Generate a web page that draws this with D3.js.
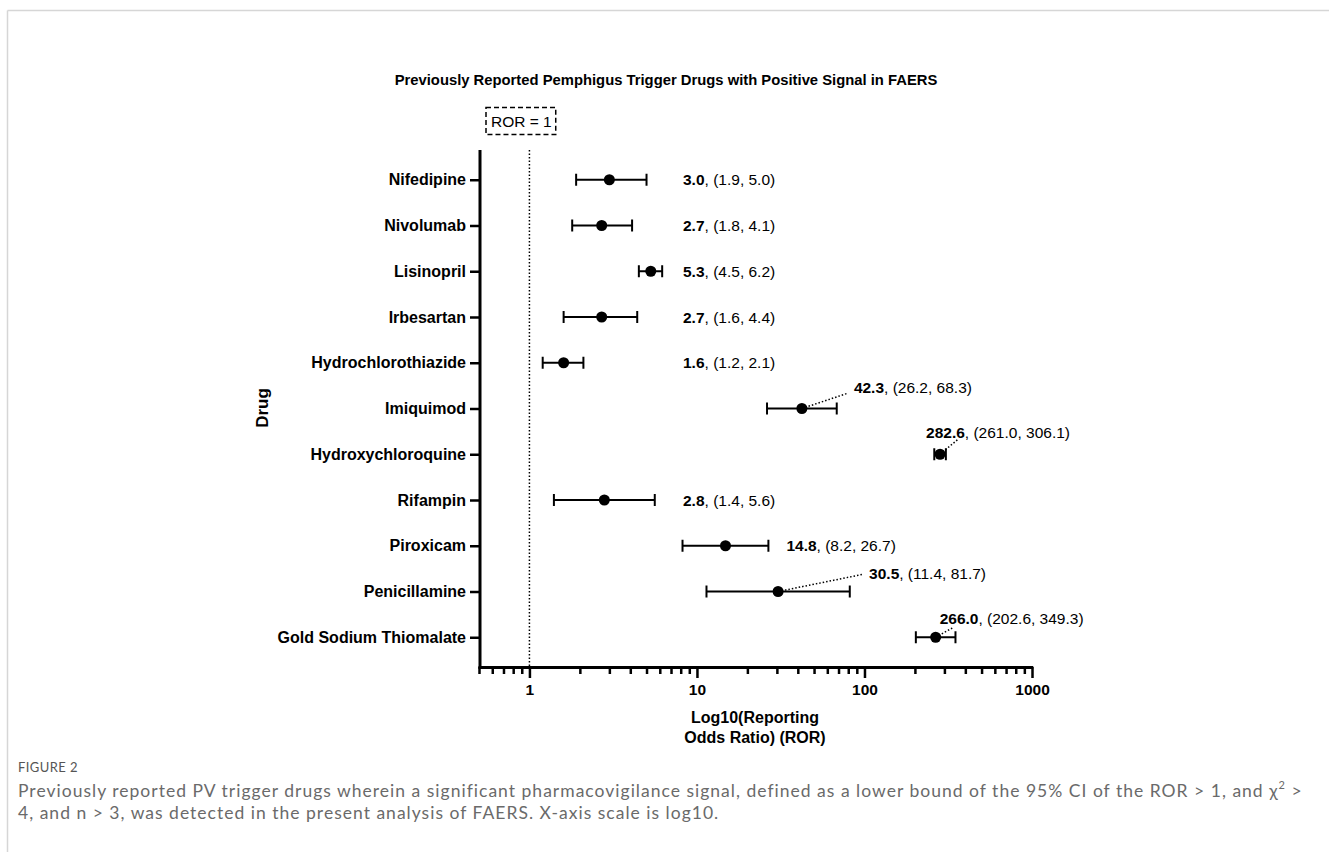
<!DOCTYPE html>
<html>
<head>
<meta charset="utf-8">
<script src="https://cdn.jsdelivr.net/npm/d3@7"></script>
<style>
  html, body { margin: 0; padding: 0; background: #fff; }
  svg { display: block; }
</style>
</head>
<body>
<svg id="chart" width="1329" height="852"></svg>
<script>
// ---------- DATA ----------
const drugs = ["Nifedipine", "Nivolumab", "Lisinopril", "Irbesartan", "Hydrochlorothiazide",
  "Imiquimod", "Hydroxychloroquine", "Rifampin", "Piroxicam", "Penicillamine", "Gold Sodium Thiomalate"];
const ror    = [3.0, 2.7, 5.3, 2.7, 1.6, 42.3, 282.6, 2.8, 14.8, 30.5, 266.0];
const ciLow  = [1.9, 1.8, 4.5, 1.6, 1.2, 26.2, 261.0, 1.4, 8.2, 11.4, 202.6];
const ciHigh = [5.0, 4.1, 6.2, 4.4, 2.1, 68.3, 306.1, 5.6, 26.7, 81.7, 349.3];
const majorTicks = [1, 10, 100, 1000];
const majorTickLabels = ["1", "10", "100", "1000"];
const minorTicks = [0.5, 0.6, 0.7, 0.8, 0.9, 2, 3, 4, 5, 6, 7, 8, 9, 20, 30, 40, 50, 60, 70, 80, 90,
  200, 300, 400, 500, 600, 700, 800, 900];
const refValue = 1;
const refLabel = "ROR = 1";
const titleText = "Previously Reported Pemphigus Trigger Drugs with Positive Signal in FAERS";
const yTitle = "Drug";
const xTitle = ["Log10(Reporting", "Odds Ratio) (ROR)"];
const figLabel = "FIGURE 2";
const captionLine1 = "Previously reported PV trigger drugs wherein a significant pharmacovigilance signal, defined as a lower bound of the 95% CI of the ROR > 1, and ";
const captionLine2 = "4, and n > 3, was detected in the present analysis of FAERS. X-axis scale is log10.";

// ---------- LAYOUT (label placement, pixels) ----------
const labelColumnX = 683;     // default text column
const labelGap = 18;          // min gap after whisker
// callouts: text offset from point (dx, dy) and leader end offset from text start (lx, ly)
const callouts = {
  "Imiquimod":              {dx: 52,  dy: -21, lx: -7, ly: 6},
  "Hydroxychloroquine":     {dx: -14, dy: -22, lx: 32, ly: 7},
  "Penicillamine":          {dx: 91,  dy: -18, lx: -7, ly: 1},
  "Gold Sodium Thiomalate": {dx: 4,   dy: -19, lx: 14, ly: 9}
};

const svg = d3.select("#chart");
const FONT = "'Liberation Sans', Arial, Helvetica, sans-serif";

// frame
svg.append("line").attr("x1", 7.5).attr("x2", 1329).attr("y1", 10.5).attr("y2", 10.5)
  .attr("stroke", "#d6d6d6").attr("stroke-width", 1.5);
svg.append("line").attr("x1", 7.5).attr("x2", 7.5).attr("y1", 10.5).attr("y2", 852)
  .attr("stroke", "#d6d6d6").attr("stroke-width", 1.5);

// title
svg.append("text").attr("x", 666).attr("y", 85).attr("text-anchor", "middle")
  .attr("font-family", FONT).attr("font-weight", "bold").attr("font-size", 14.8)
  .text(titleText);

// scales
const x = d3.scaleLog().domain([0.5, 1000]).range([479, 1032]);
const y = d3.scalePoint().domain(drugs).range([150, 667]).padding(0.65);
const axisLeft = 480, axisBottom = 667;

// reference line
svg.append("line").attr("x1", x(refValue)).attr("x2", x(refValue))
  .attr("y1", 150).attr("y2", axisBottom)
  .attr("stroke", "#000").attr("stroke-width", 1.5).attr("stroke-dasharray", "1.5,2");

// reference label box
const refG = svg.append("g");
const refText = refG.append("text").attr("x", 491).attr("y", 127)
  .attr("font-family", FONT).attr("font-size", 15.5).text(refLabel);
const rb = refText.node().getBBox();
refG.insert("rect", "text").attr("x", rb.x - 5).attr("y", 107.5).attr("width", rb.width + 9).attr("height", 27)
  .attr("fill", "none").attr("stroke", "#000").attr("stroke-width", 1.5).attr("stroke-dasharray", "5,3");

// x axis: minor ticks
const gMinor = svg.append("g").attr("transform", `translate(0,${axisBottom})`)
  .call(d3.axisBottom(x).tickValues(minorTicks).tickSize(7).tickSizeOuter(0).tickFormat(""));
gMinor.select(".domain").remove();
gMinor.selectAll(".tick line").attr("stroke", "#000").attr("stroke-width", 2.5);

// x axis: major ticks
const gMajor = svg.append("g").attr("transform", `translate(0,${axisBottom})`)
  .call(d3.axisBottom(x).tickValues(majorTicks).tickSize(11).tickSizeOuter(0)
    .tickFormat((d, i) => majorTickLabels[i]));
gMajor.select(".domain").attr("stroke", "#000").attr("stroke-width", 3)
  .attr("d", `M${axisLeft - 1.5},0.5H${x(1000) + 1.25}`);
gMajor.selectAll(".tick line").attr("stroke", "#000").attr("stroke-width", 2.5);
gMajor.selectAll(".tick text").attr("font-family", FONT).attr("font-weight", "bold")
  .attr("font-size", 15.5).attr("fill", "#000").attr("dy", "0").attr("y", 28);

// y axis
const gY = svg.append("g").attr("transform", `translate(${axisLeft},0)`)
  .call(d3.axisLeft(y).tickSize(10).tickSizeOuter(0).tickPadding(4));
gY.select(".domain").attr("stroke", "#000").attr("stroke-width", 3)
  .attr("d", `M0,150V${axisBottom + 1.5}`);
gY.selectAll(".tick line").attr("stroke", "#000").attr("stroke-width", 2.5);
gY.selectAll(".tick text").attr("font-family", FONT).attr("font-weight", "bold")
  .attr("font-size", 16).attr("fill", "#000");

// axis titles
svg.append("text").attr("transform", `translate(268,408) rotate(-90)`).attr("text-anchor", "middle")
  .attr("font-family", FONT).attr("font-weight", "bold").attr("font-size", 17).text(yTitle);
svg.append("text").attr("x", 755).attr("y", 723).attr("text-anchor", "middle")
  .attr("font-family", FONT).attr("font-weight", "bold").attr("font-size", 16)
  .selectAll("tspan").data(xTitle).join("tspan")
  .attr("x", 755).attr("dy", (d, i) => i === 0 ? 0 : 20).text(d => d);

// error bars + points
const rows = drugs.map((d, i) => ({drug: d, ror: ror[i], lo: ciLow[i], hi: ciHigh[i]}));
const g = svg.append("g");
rows.forEach(r => {
  const cy = y(r.drug);
  g.append("line").attr("x1", x(r.lo)).attr("x2", x(r.hi)).attr("y1", cy).attr("y2", cy)
    .attr("stroke", "#000").attr("stroke-width", 2);
  [r.lo, r.hi].forEach(v => g.append("line").attr("x1", x(v)).attr("x2", x(v))
    .attr("y1", cy - 6).attr("y2", cy + 6).attr("stroke", "#000").attr("stroke-width", 2));
});

// labels & leaders
rows.forEach(r => {
  const cy = y(r.drug), px = x(r.ror);
  const c = callouts[r.drug];
  let tx, ty;
  if (c) { tx = px + c.dx; ty = cy + c.dy; }
  else { tx = Math.max(labelColumnX, x(r.hi) + labelGap); ty = cy; }
  if (c) {
    g.append("line").attr("x1", px).attr("y1", cy).attr("x2", tx + c.lx).attr("y2", ty + c.ly)
      .attr("stroke", "#000").attr("stroke-width", 1.5).attr("stroke-dasharray", "1.5,2");
  }
  const t = g.append("text").attr("x", tx).attr("y", ty).attr("dy", "0.36em")
    .attr("font-family", FONT).attr("font-size", 15.5).attr("fill", "#000");
  t.append("tspan").attr("font-weight", "bold").text(r.ror.toFixed(1));
  t.append("tspan").text(`, (${r.lo.toFixed(1)}, ${r.hi.toFixed(1)})`);
});

rows.forEach(r => {
  g.append("circle").attr("cx", x(r.ror)).attr("cy", y(r.drug)).attr("r", 5.5).attr("fill", "#000");
});

// caption
const CAP = "Lato, 'Open Sans', sans-serif";
const CAPCOL = "#6a6a6a";
const CAPFS = 17.5;
const figT = svg.append("text").attr("x", 18).attr("y", 772).attr("font-family", CAP).attr("font-size", 13)
  .attr("fill", "#555").text(figLabel);
const fw = figT.node().getComputedTextLength();
figT.attr("letter-spacing", Math.max(0, (60 - fw) / figLabel.length));

const cap1 = svg.append("text").attr("x", 18).attr("y", 797).attr("font-family", CAP)
  .attr("font-size", CAPFS).attr("fill", CAPCOL);
cap1.append("tspan").text(captionLine1);
cap1.append("tspan").text("χ");
cap1.append("tspan").attr("dy", -8).attr("font-size", 11).text("2");
cap1.append("tspan").attr("dy", 8).text(" >");
const w1 = cap1.node().getComputedTextLength();
const nChars = captionLine1.length + 4;
const ls = (1284 - w1) / nChars;
cap1.attr("letter-spacing", ls);
svg.append("text").attr("x", 18).attr("y", 819).attr("font-family", CAP).attr("font-size", CAPFS)
  .attr("fill", CAPCOL).attr("letter-spacing", ls).text(captionLine2);
</script>
</body>
</html>
